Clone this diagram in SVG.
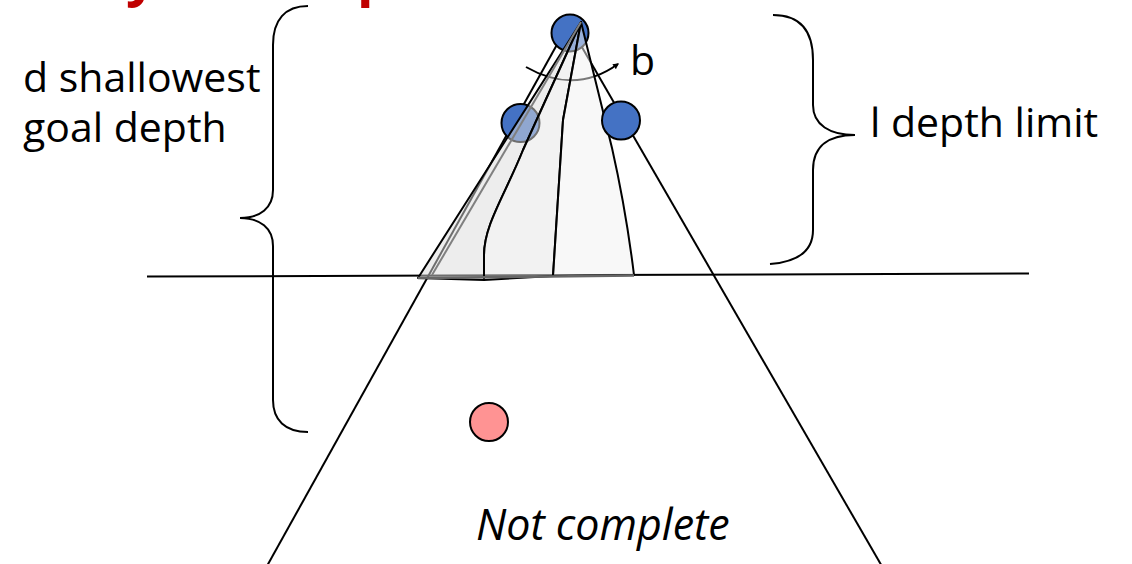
<svg xmlns="http://www.w3.org/2000/svg" width="1132" height="564" viewBox="0 0 1132 564">
  <style>
    .ln { fill: none; stroke: #000; stroke-width: 2; }
    .lbl { font-family: "Open Sans", "Liberation Sans", sans-serif; font-size: 41px; fill: #000; }
    .it { font-style: italic; font-size: 43px; }
    .node { stroke: #000; stroke-width: 2; }
    .blue { fill: #4472c4; }
    .slice { stroke: #000; stroke-width: 2; stroke-linejoin: round; }
  </style>
  <defs>
    <marker id="arr" viewBox="0 0 10 10" refX="8" refY="5" markerWidth="6" markerHeight="6" orient="auto" markerUnits="userSpaceOnUse">
      <path d="M0,0 L10,5 L0,10 Z" fill="#000"/>
    </marker>
  </defs>
  <rect width="1132" height="564" fill="#fff"/>

  <g id="title" font-family="Open Sans, Liberation Sans, sans-serif" font-weight="bold" font-size="54" fill="#c00000">
    <text x="126" y="-5">y</text>
    <text x="357" y="-5">p</text>
  </g>

  <g id="connectors">
    <line class="ln" x1="147" y1="276.5" x2="1029" y2="273.5"/>
    <line class="ln" x1="569" y1="23" x2="262" y2="575"/>
    <line class="ln" x1="568" y1="23" x2="887" y2="575"/>
    <path id="brace-left" class="ln" d="M308,6 C285,6 273,20 273,45 L273,190 C273,208 260,218 240,218 C260,218 273,228 273,246 L273,400 C273,420 285,432 308,432"/>
    <path id="brace-right" class="ln" d="M773,15 C800,15 813,30 813,60 L813,105 C813,125 830,135 855,135 C830,135 813,145 813,170 L813,230 C813,252 797,262 770,264"/>
  </g>

  <g id="goal">
    <circle class="node" cx="489" cy="422" r="19" fill="#ff9393"/>
  </g>
  <g id="root">
    <circle class="node blue" cx="570" cy="33" r="18.5"/>
  </g>
  <g id="child-left">
    <circle class="node blue" cx="520.5" cy="123" r="19"/>
  </g>

  <g id="branching">
    <path class="ln" d="M526,67 Q575,95 618,64" marker-end="url(#arr)"/>
  </g>

  <g id="cone">
    <path class="slice" fill="#dcdcdc" fill-opacity="0.5" d="M581,22 L418,278 L484,280 L484,255 C484,225 505,195 523,150 Z"/>
    <path class="slice" fill="#e6e6e6" fill-opacity="0.5" d="M581,22 L523,150 C505,195 484,225 484,255 L484,280 L553,276 Q558,200 563,120 Z"/>
    <path class="slice" fill="#f2f2f2" fill-opacity="0.5" d="M581,22 L563,120 Q558,200 553,276 L634,275 Q626,210 612,148 Z"/>
    <line x1="581" y1="22" x2="432" y2="275" stroke="#808080" stroke-width="2"/>
    <line x1="418" y1="278" x2="634" y2="275.5" stroke="#666" stroke-width="2.5"/>
  </g>

  <g id="child-right">
    <circle class="node blue" cx="621" cy="120.5" r="19"/>
  </g>

  <g id="labels">
    <text class="lbl" x="23" y="92">d shallowest</text>
    <text class="lbl" x="23" y="142">goal depth</text>
    <text class="lbl" x="630" y="75">b</text>
    <text class="lbl" x="870" y="137">l depth limit</text>
    <text class="lbl it" x="476" y="540">Not complete</text>
  </g>
</svg>
